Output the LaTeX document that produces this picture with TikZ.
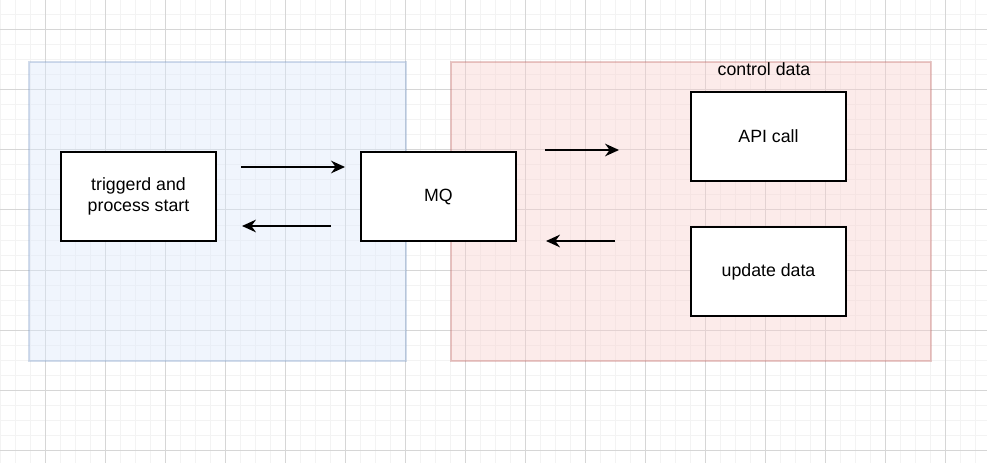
\documentclass[tikz,border=0pt]{standalone}
\usepackage{fontspec}
\setmainfont{Liberation Sans}
\usetikzlibrary{arrows.meta}
\definecolor{minorgrid}{RGB}{243,243,243}
\definecolor{majorgrid}{RGB}{214,214,214}
\definecolor{bluefill}{RGB}{218,232,252}
\definecolor{blueline}{RGB}{108,142,191}
\definecolor{redfill}{RGB}{248,206,204}
\definecolor{redline}{RGB}{184,84,80}
\tikzset{
  px/.style={x=0.75pt,y=-0.75pt},
  procbox/.style={draw=black,line width=1.2pt,fill=white,minimum width=155*0.75pt,minimum height=89*0.75pt,inner sep=0pt,align=center,font=\fontsize{13.3}{16}\selectfont},
  group/.style={line width=1pt,fill opacity=0.4,draw opacity=0.3},
  flow/.style={line width=1.2pt,-{Stealth[length=10.5pt,width=9.5pt,inset=3.5pt]}},
}
\begin{document}
\begin{tikzpicture}[px]
\useasboundingbox (0,0) rectangle (987,463);
\fill[white] (0,0) rectangle (987,463);
\foreach \x in {0,15,...,987} \draw[minorgrid,line width=0.75pt] (\x,0) -- (\x,463);
\foreach \y in {0,15,...,463} \draw[minorgrid,line width=0.75pt] (0,\y) -- (987,\y);
\foreach \x in {45,105,...,987} \draw[majorgrid,line width=0.75pt] (\x,0) -- (\x,463);
\foreach \y in {30,90,...,463} \draw[majorgrid,line width=0.75pt] (0,\y) -- (987,\y);
\draw[group,fill=bluefill,draw=blueline] (29,62) rectangle (406,361);
\draw[group,fill=redfill,draw=redline] (451,62) rectangle (931,361);
\node[font=\fontsize{13.3}{16}\selectfont] (ctl) at (764,69) {control data};
\node[procbox] (trig) at (138.5,196.5) {triggerd and\\process start};
\node[procbox] (mq) at (438.5,196.5) {MQ};
\node[procbox] (api) at (768.5,136.5) {API call};
\node[procbox] (upd) at (768.5,271.5) {update data};
\coordinate (a1s) at (241,167); \coordinate (a1e) at (345,167);
\coordinate (a2s) at (331,226); \coordinate (a2e) at (242,226);
\coordinate (a3s) at (545,150); \coordinate (a3e) at (619,150);
\coordinate (a4s) at (615,241); \coordinate (a4e) at (546,241);
\draw[flow] (a1s) -- (a1e);
\draw[flow] (a2s) -- (a2e);
\draw[flow] (a3s) -- (a3e);
\draw[flow] (a4s) -- (a4e);
\end{tikzpicture}
\end{document}
